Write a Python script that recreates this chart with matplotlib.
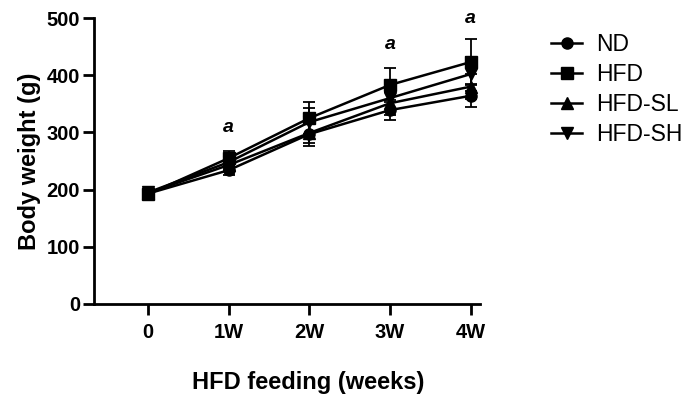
import matplotlib.pyplot as plt
from matplotlib.lines import Line2D

plt.rcParams["font.family"] = ["Liberation Sans", "DejaVu Sans"]

weeks = ["0", "1W", "2W", "3W", "4W"]
groups = ["ND", "HFD", "HFD-SL", "HFD-SH"]
markers = ["o", "s", "^", "v"]

nd = [193, 234, 297, 339, 364]
hfd = [192, 255, 325, 383, 423]
hfd_sl = [194, 243, 299, 351, 380]
hfd_sh = [195, 248, 318, 360, 402]
means = [nd, hfd, hfd_sl, hfd_sh]

nd_sd = [6, 8, 20, 18, 20]
hfd_sd = [7, 12, 28, 30, 40]
hfd_sl_sd = [6, 9, 18, 20, 22]
hfd_sh_sd = [6, 10, 25, 24, 30]
sds = [nd_sd, hfd_sd, hfd_sl_sd, hfd_sh_sd]

sig_weeks = [1, 3, 4]
sig_y = [308, 453, 500]

fig = plt.figure(figsize=(6.97, 4.01), dpi=100)
ax = fig.add_axes([0.135, 0.242, 0.554, 0.713])

x = list(range(len(weeks)))
handles = []
for name, m, y, sd in zip(groups, markers, means, sds):
    ax.errorbar(x, y, yerr=sd, color="black", marker=m, markersize=8,
                linewidth=1.8, elinewidth=1.3, capsize=4, capthick=1.3)
    handles.append(Line2D([], [], color="black", marker=m, markersize=8,
                          linewidth=1.8, label=name))

for i, yy in zip(sig_weeks, sig_y):
    ax.text(i, yy, "a", ha="center", va="center", fontsize=14,
            fontstyle="italic", fontweight="bold", clip_on=False)

ax.set_xlim(-0.67, 4.12)
ax.set_ylim(0, 500)
ax.set_xticks(x)
ax.set_xticklabels(weeks)
ax.set_yticks([0, 100, 200, 300, 400, 500])
for s in ["top", "right"]:
    ax.spines[s].set_visible(False)
for s in ["left", "bottom"]:
    ax.spines[s].set_linewidth(2)
ax.tick_params(width=2, length=8, labelsize=14.5)
ax.tick_params(axis="y", pad=2)
ax.tick_params(axis="x", pad=6)
for lab in ax.get_xticklabels() + ax.get_yticklabels():
    lab.set_fontweight("bold")

ax.set_ylabel("Body weight (g)", fontsize=17, fontweight="bold", labelpad=4)
ax.set_xlabel("HFD feeding (weeks)", fontsize=17, fontweight="bold")
ax.xaxis.set_label_coords(0.555, -0.235)

ax.legend(handles=handles, loc="upper left", bbox_to_anchor=(1.13, 1.02),
          frameon=False, fontsize=16.5, handlelength=1.35, handletextpad=0.6,
          labelspacing=0.3)

fig.savefig("out.png")
